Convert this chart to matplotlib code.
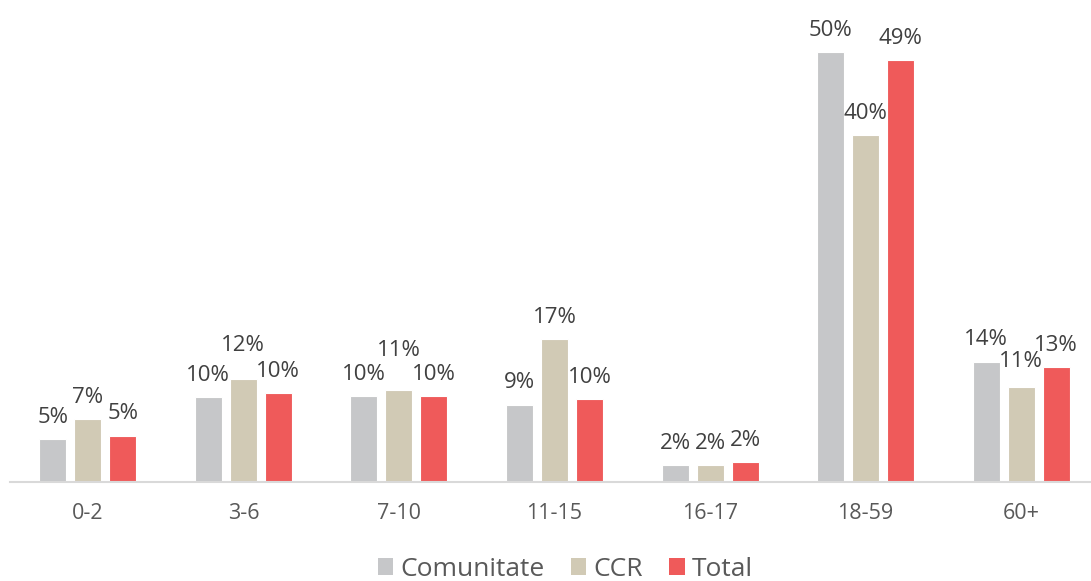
import matplotlib
matplotlib.use("Agg")
import matplotlib.pyplot as plt
import numpy as np

categories = ["0-2", "3-6", "7-10", "11-15", "16-17", "18-59", "60+"]
series_names = ["Comunitate", "CCR", "Total"]
comunitate = [5.0, 9.9, 10.0, 9.0, 2.0, 50.0, 14.0]
ccr = [7.3, 12.0, 10.7, 16.6, 2.0, 40.3, 11.0]
total = [5.4, 10.3, 10.0, 9.6, 2.3, 49.0, 13.4]
colors = ["#c6c7c9", "#d1cab5", "#ef5a5a"]

plt.rcParams['font.family'] = ['Open Sans', 'DejaVu Sans']

W, H = 1091, 581
fig = plt.figure(figsize=(W / 100, H / 100), dpi=100)
ax = fig.add_axes([10 / W, (H - 482) / H, 1089 / W, 482 / H])

# extra lift (points) for labels moved up to avoid overlap, as in the reference
nudge = {(1, 1): 8, (1, 2): 13, (1, 6): 3}

x = np.arange(len(categories))
bw = 0.174
pitch = 0.225
for i, (vals, name, c) in enumerate(zip([comunitate, ccr, total], series_names, colors)):
    pos = x + (i - 1) * pitch
    bars = ax.bar(pos, vals, width=bw, color=c, edgecolor="white", linewidth=0.8, label=name)
    for j, (b, v) in enumerate(zip(bars, vals)):
        ax.annotate(f"{v:.0f}%", (b.get_x() + b.get_width() / 2, v),
                    xytext=(0, 8 + nudge.get((i, j), 0)), textcoords="offset points",
                    ha="center", va="bottom", fontsize=16, color="#404040")

ax.set_xlim(-0.5, len(categories) - 0.5)
ax.set_ylim(0, 56.0)
ax.set_xticks(x)
ax.set_xticklabels(categories, fontsize=15.5, color="#595959")
ax.tick_params(axis="x", length=0, pad=15)
ax.set_yticks([])
for s in ["top", "right", "left"]:
    ax.spines[s].set_visible(False)
ax.spines["bottom"].set_color("#d9d9d9")
ax.spines["bottom"].set_linewidth(1.5)

leg = fig.legend(loc="center", bbox_to_anchor=(565 / W, 1 - 569 / H), ncol=3, frameon=False,
                 fontsize=19, handlelength=0.6, handleheight=0.6, handletextpad=0.25,
                 columnspacing=1.0, labelcolor="#595959", borderaxespad=0, borderpad=0)
for h in leg.legend_handles:
    h.set_edgecolor("none")

fig.savefig("out.png", dpi=100)
